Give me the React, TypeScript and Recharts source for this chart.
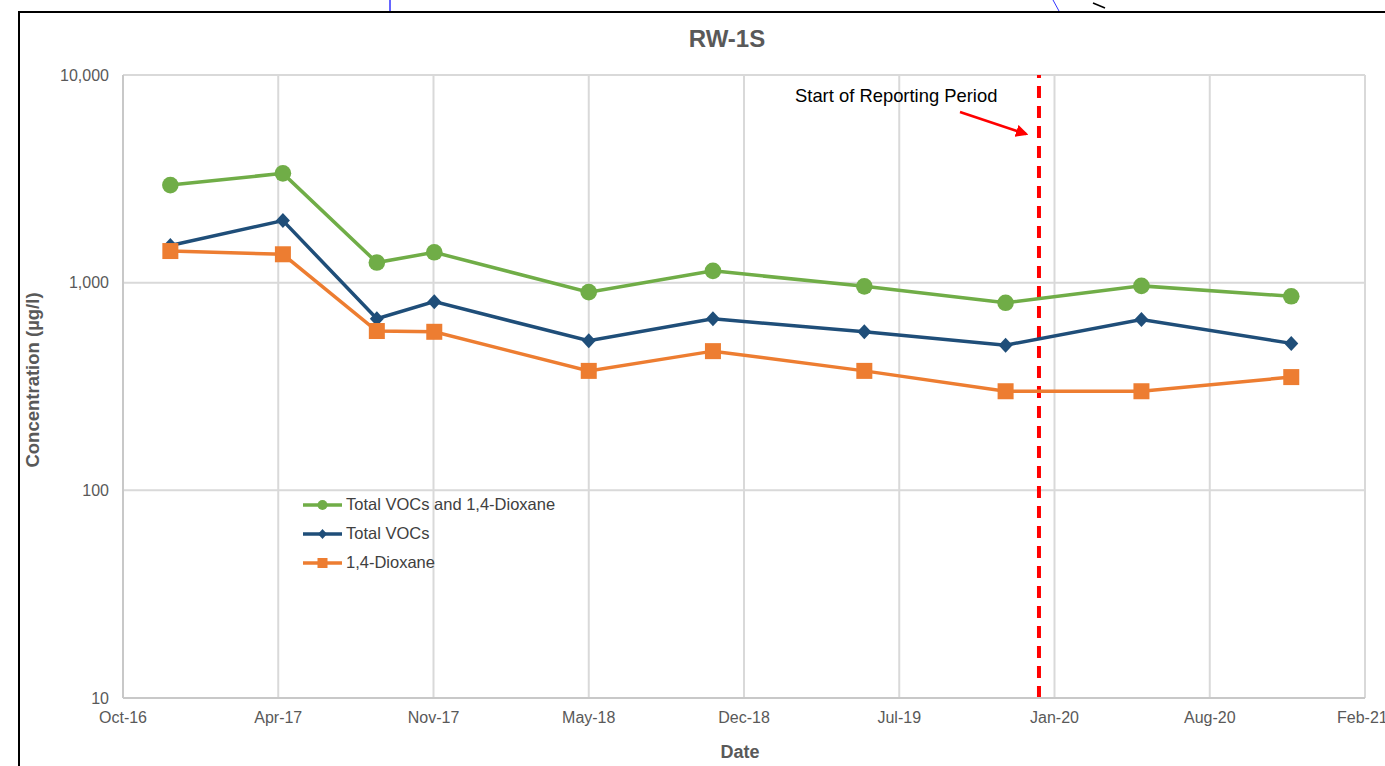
import React from "react";
import {
  LineChart,
  Line,
  XAxis,
  YAxis,
  CartesianGrid,
  ReferenceLine,
  Legend,
} from "recharts";

// sample dates and concentrations (ug/l)
const sampleDates = [
  "2016-12-05",
  "2017-04-29",
  "2017-08-28",
  "2017-11-10",
  "2018-05-28",
  "2018-11-04",
  "2019-05-18",
  "2019-11-16",
  "2020-05-09",
  "2020-11-18",
];
const totalVocsAndDioxane = [2950, 3360, 1250, 1400, 900, 1140, 960, 800, 965, 860];
const totalVocs = [1510, 1990, 670, 810, 525, 670, 580, 500, 665, 510];
const dioxane = [1420, 1370, 585, 580, 376, 468, 376, 300, 300, 351];

const yTicks = [10, 100, 1000, 10000];
const axisStart = "2016-10-05";
const tickStepDays = 200;
const tickCount = 9;
const reportingStart = "2019-12-29";

const monthNames = ["Jan", "Feb", "Mar", "Apr", "May", "Jun", "Jul", "Aug", "Sep", "Oct", "Nov", "Dec"];
const DAY = 24 * 3600 * 1000;
const FONT = '"Liberation Sans", Arial, sans-serif';

const GREEN = "#70ad47";
const BLUE = "#1f4e79";
const ORANGE = "#ed7d31";

const startT = Date.parse(axisStart);
const xTicks = Array.from({ length: tickCount }, (_, i) => startT + i * tickStepDays * DAY);

const data = sampleDates.map((d, i) => ({
  t: Date.parse(d),
  both: totalVocsAndDioxane[i],
  vocs: totalVocs[i],
  dioxane: dioxane[i],
}));

const fmtDate = (v: number) => {
  const d = new Date(v);
  return monthNames[d.getUTCMonth()] + "-" + String(d.getUTCFullYear()).slice(2);
};

const CircleDot = (p: any) => (
  <circle key={`c-${p.index}`} cx={p.cx} cy={p.cy} r={8.3} fill={GREEN} />
);
const DiamondDot = (p: any) => (
  <polygon
    key={`d-${p.index}`}
    points={`${p.cx},${p.cy - 7.5} ${p.cx + 7},${p.cy} ${p.cx},${p.cy + 7.5} ${p.cx - 7},${p.cy}`}
    fill={BLUE}
  />
);
const SquareDot = (p: any) => (
  <rect key={`s-${p.index}`} x={p.cx - 8} y={p.cy - 8} width={16} height={16} fill={ORANGE} />
);

const legendRows = [
  { name: "Total VOCs and 1,4-Dioxane", color: GREEN, shape: "circle" },
  { name: "Total VOCs", color: BLUE, shape: "diamond" },
  { name: "1,4-Dioxane", color: ORANGE, shape: "square" },
];

const LegendBox = () => (
  <div style={{ fontFamily: FONT, fontSize: 16.5, color: "#404040" }}>
    {legendRows.map((r) => (
      <div key={r.name} style={{ display: "flex", alignItems: "center", height: 29 }}>
        <svg width={40} height={16} style={{ marginRight: 3 }}>
          <line x1={0} y1={8} x2={39} y2={8} stroke={r.color} strokeWidth={3.5} />
          {r.shape === "circle" && <circle cx={19.5} cy={8} r={5} fill={r.color} />}
          {r.shape === "diamond" && <polygon points="19.5,3 24,8 19.5,13 15,8" fill={r.color} />}
          {r.shape === "square" && <rect x={14.5} y={3} width={10} height={10} fill={r.color} />}
        </svg>
        <span>{r.name}</span>
      </div>
    ))}
  </div>
);

export default function App() {
  return (
    <div style={{ position: "absolute", left: 0, top: 0, width: 1385, height: 766, background: "#fff", overflow: "hidden" }}>
      <div
        style={{
          position: "absolute",
          left: 18,
          top: 11,
          width: 1400,
          height: 800,
          borderLeft: "2px solid #000",
          borderTop: "2px solid #000",
        }}
      />
      <LineChart
        width={1385}
        height={766}
        data={data}
        margin={{ top: 75, right: 20, left: 63, bottom: 38 }}
        style={{ position: "absolute", left: 0, top: 0 }}
      >
        <CartesianGrid stroke="#d9d9d9" strokeWidth={2} />
        <XAxis
          dataKey="t"
          type="number"
          scale="time"
          domain={[xTicks[0], xTicks[xTicks.length - 1]]}
          ticks={xTicks}
          tickFormatter={fmtDate}
          height={30}
          tickLine={false}
          tickMargin={8}
          axisLine={{ stroke: "#c8c8c8", strokeWidth: 2 }}
          tick={{ fill: "#595959", fontSize: 16, fontFamily: FONT }}
        />
        <YAxis
          scale="log"
          domain={[10, 10000]}
          ticks={yTicks}
          allowDataOverflow
          width={60}
          tickLine={false}
          tickMargin={8}
          axisLine={{ stroke: "#c8c8c8", strokeWidth: 2 }}
          tickFormatter={(v: number) => v.toLocaleString("en-US")}
          tick={{ fill: "#595959", fontSize: 16, fontFamily: FONT }}
        />
        <ReferenceLine
          x={Date.parse(reportingStart)}
          stroke="#ff0000"
          strokeWidth={4}
          strokeDasharray="12 8"
        />
        <Line
          dataKey="both"
          name="Total VOCs and 1,4-Dioxane"
          stroke={GREEN}
          strokeWidth={3.5}
          dot={CircleDot}
          activeDot={false}
          isAnimationActive={false}
        />
        <Line
          dataKey="vocs"
          name="Total VOCs"
          stroke={BLUE}
          strokeWidth={3.5}
          dot={DiamondDot}
          activeDot={false}
          isAnimationActive={false}
        />
        <Line
          dataKey="dioxane"
          name="1,4-Dioxane"
          stroke={ORANGE}
          strokeWidth={3.5}
          dot={SquareDot}
          activeDot={false}
          isAnimationActive={false}
        />
        <Legend
          layout="vertical"
          align="center"
          verticalAlign="middle"
          content={LegendBox}
          wrapperStyle={{ left: 303, top: 490, width: 300 }}
        />
      </LineChart>
      <svg
        width={1385}
        height={766}
        style={{ position: "absolute", left: 0, top: 0, pointerEvents: "none" }}
      >
        <defs>
          <marker id="arrowHead" markerWidth="5" markerHeight="5" refX="4" refY="2.5" orient="auto">
            <path d="M0,0 L5,2.5 L0,5 Z" fill="#ff0000" />
          </marker>
        </defs>
        <line x1={390} y1={0} x2={390} y2={11} stroke="#3333ff" strokeWidth={1.5} />
        <line x1={1053} y1={0} x2={1059} y2={11} stroke="#3333ff" strokeWidth={1} />
        <line x1={1093} y1={3} x2={1105} y2={8} stroke="#000" strokeWidth={1.5} />
        <text x={727} y={47} textAnchor="middle" fontFamily={FONT} fontWeight="bold" fontSize={24} fill="#595959">
          RW-1S
        </text>
        <text x={795} y={102} fontFamily={FONT} fontSize={18.4} fill="#000">
          Start of Reporting Period
        </text>
        <line x1={960} y1={112} x2={1026} y2={134} stroke="#ff0000" strokeWidth={2.5} markerEnd="url(#arrowHead)" />
        <text
          x={0}
          y={0}
          transform="translate(39,380) rotate(-90)"
          textAnchor="middle"
          fontFamily={FONT}
          fontWeight="bold"
          fontSize={18.5}
          fill="#595959"
        >
          Concentration (µg/l)
        </text>
        <text x={740} y={758} textAnchor="middle" fontFamily={FONT} fontWeight="bold" fontSize={18} fill="#595959">
          Date
        </text>
      </svg>
    </div>
  );
}
